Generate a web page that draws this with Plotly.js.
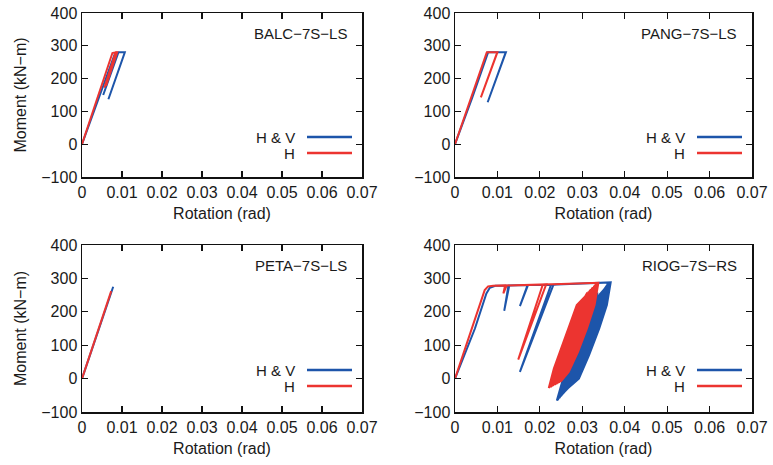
<!DOCTYPE html>
<html>
<head>
<meta charset="utf-8">
<script src="https://cdn.plot.ly/plotly-3.0.1.min.js"></script>
<style>html,body{margin:0;padding:0;background:#fff;}#chart{width:773px;height:465px;}</style>
</head>
<body>
<div id="chart"></div>
<script>
// ---------- Data (rotation in rad, moment in kN-m) ----------
const panelNames = ["BALC\u22127S\u2212LS", "PANG\u22127S\u2212LS", "PETA\u22127S\u2212LS", "RIOG\u22127S\u2212RS"];
const seriesNames = ["H & V", "H"];
const xTickVals = [0, 0.01, 0.02, 0.03, 0.04, 0.05, 0.06, 0.07];
const xTickText = ["0", "0.01", "0.02", "0.03", "0.04", "0.05", "0.06", "0.07"];
const yTickVals = [-100, 0, 100, 200, 300, 400];
const yTickText = ["\u2212100", "0", "100", "200", "300", "400"];

// BALC-7S-LS
const balcHV_x = [0, 0.0050, 0.0082, 0.0091, 0.0053, 0.0091, 0.0107, 0.0066, 0.0107];
const balcHV_y = [0, 170, 275, 280, 150, 280, 280, 137, 280];
const balcH_x  = [0, 0.0040, 0.0076, 0.0084, 0.0056, 0.0084, 0.0088, 0.0060, 0.0086];
const balcH_y  = [0, 145, 278, 280, 172, 280, 280, 178, 275];

// PANG-7S-LS
const pangHV_x = [0, 0.0040, 0.0078, 0.0120, 0.0077, 0.0118];
const pangHV_y = [0, 140, 280, 280, 128, 275];
const pangH_x  = [0, 0.0040, 0.0075, 0.0100, 0.0061, 0.0098];
const pangH_y  = [0, 148, 280, 280, 143, 275];

// PETA-7S-LS
const petaHV_x = [0, 0.0040, 0.0078];
const petaHV_y = [0, 140, 275];
const petaH_x  = [0, 0.0040, 0.0073];
const petaH_y  = [0, 143, 262];

// RIOG-7S-RS : monotonic part followed by cyclic loops
const riogHV_x = [0, 0.0047, 0.0074, 0.0082, 0.0095, 0.0126, 0.0116, 0.0128, 0.0171, 0.0153, 0.0172, 0.0232, 0.0153, 0.0226, 0.0240, 0.0300, 0.0367,
  0.0358, 0.0340, 0.0316, 0.0292, 0.0260, 0.0282, 0.0303, 0.0324, 0.0344,
  0.0360, 0.0345, 0.0327, 0.0303, 0.0279, 0.0250, 0.0269, 0.0290, 0.0311, 0.0331,
  0.0354, 0.0335, 0.0317, 0.0293, 0.0269, 0.0242, 0.0259, 0.0280, 0.0301, 0.0321,
  0.0366, 0.0354, 0.0336, 0.0312, 0.0288, 0.0257, 0.0278, 0.0299, 0.0320, 0.0340,
  0.0357, 0.0340, 0.0322, 0.0298, 0.0274, 0.0246, 0.0264, 0.0285, 0.0306, 0.0326,
  0.0363, 0.0350, 0.0332, 0.0308, 0.0284, 0.0254, 0.0274, 0.0295, 0.0316, 0.0336,
  0.0353, 0.0333, 0.0315, 0.0291, 0.0267, 0.0240, 0.0257, 0.0278, 0.0299, 0.0319,
  0.0366, 0.0356, 0.0338, 0.0314, 0.0290, 0.0258, 0.0280, 0.0301, 0.0322, 0.0342,
  0.0359, 0.0343, 0.0325, 0.0301, 0.0277, 0.0248, 0.0267, 0.0288, 0.0309, 0.0329,
  0.0362, 0.0348, 0.0330, 0.0306, 0.0282, 0.0252, 0.0272, 0.0293, 0.0314, 0.0334,
  0.0355, 0.0337, 0.0319, 0.0295, 0.0271, 0.0243, 0.0261, 0.0282, 0.0303, 0.0323,
  0.0364, 0.0352, 0.0334, 0.0310, 0.0286, 0.0255, 0.0276, 0.0297, 0.0318, 0.0338,
  0.0358, 0.0341, 0.0323, 0.0299, 0.0275, 0.0246, 0.0265, 0.0286, 0.0307, 0.0327,
  0.0336];
const riogHV_y = [0, 150, 255, 272, 278, 279, 203, 279, 280, 217, 280, 281, 20, 280, 282, 285, 288,
  220, 150, 70, 0, -36, 10, 80, 150, 220,
  283, 220, 150, 70, 0, -52, 10, 80, 150, 220,
  268, 220, 150, 70, 0, -64, 10, 80, 150, 220,
  288, 220, 150, 70, 0, -41, 10, 80, 150, 220,
  275, 220, 150, 70, 0, -58, 10, 80, 150, 220,
  288, 220, 150, 70, 0, -46, 10, 80, 150, 220,
  265, 220, 150, 70, 0, -66, 10, 80, 150, 220,
  288, 220, 150, 70, 0, -38, 10, 80, 150, 220,
  280, 220, 150, 70, 0, -54, 10, 80, 150, 220,
  287, 220, 150, 70, 0, -48, 10, 80, 150, 220,
  271, 220, 150, 70, 0, -61, 10, 80, 150, 220,
  288, 220, 150, 70, 0, -43, 10, 80, 150, 220,
  277, 220, 150, 70, 0, -56, 10, 80, 150, 220,
  258];
const riogH_x = [0, 0.0040, 0.0070, 0.0078, 0.0090, 0.0118, 0.0114, 0.0122, 0.0160, 0.0215, 0.0149, 0.0207, 0.0250, 0.0300, 0.0338,
  0.0329, 0.0311, 0.0290, 0.0268, 0.0249, 0.0261, 0.0280, 0.0298, 0.0315,
  0.0330, 0.0316, 0.0298, 0.0277, 0.0255, 0.0236, 0.0248, 0.0267, 0.0285, 0.0302,
  0.0320, 0.0306, 0.0288, 0.0267, 0.0245, 0.0226, 0.0238, 0.0257, 0.0275, 0.0292,
  0.0337, 0.0325, 0.0307, 0.0286, 0.0264, 0.0245, 0.0257, 0.0276, 0.0294, 0.0311,
  0.0325, 0.0311, 0.0293, 0.0272, 0.0250, 0.0231, 0.0243, 0.0262, 0.0280, 0.0297,
  0.0335, 0.0321, 0.0303, 0.0282, 0.0260, 0.0241, 0.0253, 0.0272, 0.0290, 0.0307,
  0.0315, 0.0301, 0.0283, 0.0262, 0.0240, 0.0221, 0.0233, 0.0252, 0.0270, 0.0287,
  0.0337, 0.0327, 0.0309, 0.0288, 0.0266, 0.0247, 0.0259, 0.0278, 0.0296, 0.0313,
  0.0328, 0.0314, 0.0296, 0.0275, 0.0253, 0.0234, 0.0246, 0.0265, 0.0283, 0.0300,
  0.0333, 0.0319, 0.0301, 0.0280, 0.0258, 0.0239, 0.0251, 0.0270, 0.0288, 0.0305,
  0.0318, 0.0304, 0.0286, 0.0265, 0.0243, 0.0224, 0.0236, 0.0255, 0.0273, 0.0290,
  0.0336, 0.0323, 0.0305, 0.0284, 0.0262, 0.0243, 0.0255, 0.0274, 0.0292, 0.0309,
  0.0323, 0.0309, 0.0291, 0.0270, 0.0248, 0.0229, 0.0241, 0.0260, 0.0278, 0.0295,
  0.0312];
const riogH_y = [0, 150, 265, 276, 278, 279, 255, 279, 281, 282, 57, 282, 283, 285, 287,
  220, 150, 80, 20, -9, 30, 100, 160, 220,
  280, 220, 150, 80, 20, -18, 30, 100, 160, 220,
  267, 220, 150, 80, 20, -25, 30, 100, 160, 220,
  286, 220, 150, 80, 20, -11, 30, 100, 160, 220,
  273, 220, 150, 80, 20, -21, 30, 100, 160, 220,
  286, 220, 150, 80, 20, -14, 30, 100, 160, 220,
  260, 220, 150, 80, 20, -28, 30, 100, 160, 220,
  286, 220, 150, 80, 20, -10, 30, 100, 160, 220,
  277, 220, 150, 80, 20, -19, 30, 100, 160, 220,
  284, 220, 150, 80, 20, -16, 30, 100, 160, 220,
  264, 220, 150, 80, 20, -26, 30, 100, 160, 220,
  285, 220, 150, 80, 20, -13, 30, 100, 160, 220,
  271, 220, 150, 80, 20, -23, 30, 100, 160, 220,
  258];

// ---------- Styling ----------
const BLUE = "#1d55aa";
const RED = "#ec3430";
const FONT = "Liberation Sans, Arial, Helvetica, sans-serif";
const TXT = "#1a1a1a";

const panels = [
  {hvx: balcHV_x, hvy: balcHV_y, hx: balcH_x, hy: balcH_y},
  {hvx: pangHV_x, hvy: pangHV_y, hx: pangH_x, hy: pangH_y},
  {hvx: petaHV_x, hvy: petaHV_y, hx: petaH_x, hy: petaH_y},
  {hvx: riogHV_x, hvy: riogHV_y, hx: riogH_x, hy: riogH_y}
];

const W = 773, H = 465;
// pixel boxes of each plot area [left, right, top, bottom]
const boxes = [[82, 362, 13, 177], [455, 752, 13, 177], [82, 362, 245, 412], [455, 752, 245, 412]];

const traces = [];
const layout = {
  width: W, height: H,
  margin: {l: 0, r: 0, t: 0, b: 0},
  paper_bgcolor: "#fff", plot_bgcolor: "#fff",
  showlegend: false,
  font: {family: FONT, size: 15, color: TXT},
  annotations: [], shapes: []
};

panels.forEach((p, i) => {
  const n = i === 0 ? "" : String(i + 1);
  const xa = "x" + n, ya = "y" + n;
  traces.push({x: p.hvx, y: p.hvy, xaxis: xa, yaxis: ya, type: "scatter", mode: "lines",
    name: seriesNames[0], line: {color: BLUE, width: 2}});
  traces.push({x: p.hx, y: p.hy, xaxis: xa, yaxis: ya, type: "scatter", mode: "lines",
    name: seriesNames[1], line: {color: RED, width: 2}});
  const b = boxes[i];
  const common = {showline: true, linecolor: "#111", linewidth: 1.5, mirror: "ticks",
    ticks: "inside", ticklen: 6, tickwidth: 1.2, tickcolor: "#111", showgrid: false, zeroline: false,
    tickfont: {family: FONT, size: 16, color: TXT}};
  layout["xaxis" + n] = Object.assign({}, common, {
    domain: [b[0] / W, b[1] / W], anchor: ya, range: [0, 0.07],
    tickvals: xTickVals, ticktext: xTickText,
    title: {text: "Rotation (rad)", font: {family: FONT, size: 16, color: TXT}, standoff: 8}
  });
  layout["yaxis" + n] = Object.assign({}, common, {
    domain: [1 - b[3] / H, 1 - b[2] / H], anchor: xa, range: [-100, 400],
    tickvals: yTickVals, ticktext: yTickText,
    title: (i % 2 === 0) ? {text: "Moment (kN\u2212m)", font: {family: FONT, size: 16, color: TXT}, standoff: 10} : {text: ""}
  });
  const xd = xa + " domain", yd = ya + " domain";
  const pw = b[1] - b[0], ph = b[3] - b[2];
  // panel label
  layout.annotations.push({xref: xd, yref: yd, x: (b[1] - 13 - b[0]) / pw, y: (ph - 20) / ph,
    xanchor: "right", yanchor: "middle", text: panelNames[i], showarrow: false,
    font: {family: FONT, size: 15, color: TXT}});
  // legend
  const lgY = [(i < 2 ? 40 : 42) / ph, (i < 2 ? 24 : 26) / ph];
  const textRight = (b[1] - 65 - b[0]) / pw;
  const lineL = (b[1] - 55 - b[0]) / pw, lineR = (b[1] - 10 - b[0]) / pw;
  [0, 1].forEach(k => {
    layout.annotations.push({xref: xd, yref: yd, x: textRight, y: lgY[k], xanchor: "right", yanchor: "middle",
      text: seriesNames[k], showarrow: false, font: {family: FONT, size: 15, color: TXT}});
    layout.shapes.push({type: "line", xref: xd, yref: yd, x0: lineL, x1: lineR, y0: lgY[k], y1: lgY[k],
      line: {color: k === 0 ? BLUE : RED, width: 2.5}});
  });
});

Plotly.newPlot("chart", traces, layout, {displayModeBar: false, staticPlot: true});
</script>
</body>
</html>
